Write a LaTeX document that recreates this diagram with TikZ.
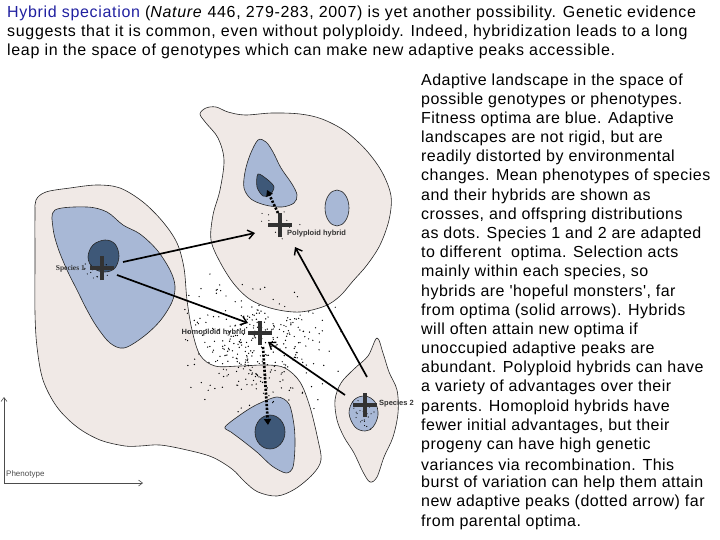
\documentclass[tikz,border=0pt]{standalone}
\usepackage{fontspec}
\setmainfont{Liberation Sans}
\newfontfamily\serifsmall{Liberation Serif}
\newfontfamily\hdrfont[LetterSpace=4.2]{Liberation Sans}
\newfontfamily\bodyfont[LetterSpace=3.0]{Liberation Sans}
\usetikzlibrary{arrows.meta}
\definecolor{pale}{RGB}{240,233,230}
\definecolor{midblue}{RGB}{168,184,214}
\definecolor{darkblue}{RGB}{62,88,120}
\definecolor{linkblue}{RGB}{32,32,160}
\definecolor{crossgray}{RGB}{50,50,50}
\tikzset{
  land/.style={fill=pale,draw=black!85,line width=0.6pt},
  peak/.style={fill=midblue,draw=black!85,line width=0.6pt},
  top/.style={fill=darkblue,draw=black!85,line width=0.6pt},
  solidarr/.style={line width=1.7pt,-{Straight Barb[length=6pt,width=9pt,line width=1.4pt]}},
  dotarr/.style={line width=2.6pt,dash pattern=on 2.2pt off 1.6pt,-{Triangle[length=6pt,width=7pt]}},
  crossline/.style={line width=4.5pt,crossgray},
  axis/.style={line width=0.6pt,black!70,-{Straight Barb[length=4pt,width=6pt]}},
  hdr/.style={anchor=west,inner sep=0pt,font=\hdrfont\fontsize{16}{19}\selectfont},
  body/.style={anchor=west,inner sep=0pt,font=\bodyfont\fontsize{16}{19}\selectfont},
  lbl/.style={inner sep=0pt,font=\fontsize{7.5}{9}\selectfont\bfseries,text=black!80},
  dot/.style={fill=black}
}
\begin{document}
\begin{tikzpicture}[x=1pt,y=-1pt]
\useasboundingbox (0,0) rectangle (720,540);
% header
\node[hdr] (h1) at (7,13) {\textcolor{linkblue}{Hybrid speciation} (\textit{Nature} 446, 279-283, 2007) is yet another possibility. Genetic evidence};
\node[hdr] (h2) at (7,32) {suggests that it is common, even without polyploidy. Indeed, hybridization leads to a long};
\node[hdr] (h3) at (7,51) {leap in the space of genotypes which can make new adaptive peaks accessible.};
% body text
\foreach \t [count=\i from 0] in {
Adaptive landscape in the space of,
possible genotypes or phenotypes.,
Fitness optima are blue. Adaptive,
{landscapes are not rigid, but are},
readily distorted by environmental,
changes. Mean phenotypes of species,
and their hybrids are shown as,
{crosses, and offspring distributions},
as dots. Species 1 and 2 are adapted,
to different\ \ optima. Selection acts,
{mainly within each species, so},
{hybrids are 'hopeful monsters', far},
from optima (solid arrows). Hybrids,
will often attain new optima if,
unoccupied adaptive peaks are,
abundant. Polyploid hybrids can have,
a variety of advantages over their,
parents. Homoploid hybrids have,
{fewer initial advantages, but their},
progeny can have high genetic,
variances via recombination. This,
burst of variation can help them attain,
new adaptive peaks (dotted arrow) far,
from parental optima.}
  \node[body] (b\i) at (421,{81+19.17*\i}) {\t};
% landscapes
\draw[land] plot[smooth cycle,tension=0.55] coordinates {
(36,200) (46,192) (70,188) (97,185) (120,188) (143,202) (163,222) (177,243) (184,268) (187,300) (192,330) (200,355) (215,366) (240,366) (267,365) (285,368) (300,382) (310,407) (318,440) (321,460) (313,474) (295,489) (277,496) (258,492) (245,482) (232,469) (212,457) (187,450) (160,445) (140,446) (125,446) (100,440) (77,427) (57,407) (43,380) (37,347) (35,313) (35,260) (35,215)};
\draw[land] plot[smooth cycle,tension=0.55] coordinates {
(200,114) (206,108) (216,107) (228,112) (245,115) (272,113) (300,114) (322,119) (345,131) (366,150) (382,172) (391,196) (389,220) (380,245) (367,265) (353,281) (340,296) (325,306) (300,312) (274,309) (251,300) (234,284) (220,262) (211,240) (213,215) (220,190) (224,160) (218,138) (206,123)};
\draw[land] plot[smooth cycle,tension=0.55] coordinates {
(377,338) (368,356) (354,369) (341,383) (335,400) (337,420) (344,437) (354,453) (363,472) (370,482) (377,477) (384,457) (393,437) (398,413) (397,390) (389,372) (383,353)};
% peaks
\draw[peak] plot[smooth cycle,tension=0.55] coordinates {
(55,210) (87,207) (107,212) (123,225) (140,234) (157,250) (170,270) (175,286) (172,302) (160,321) (143,337) (124,348) (110,343) (97,327) (87,310) (77,290) (67,270) (58,248) (53,228)};
\draw[peak] plot[smooth cycle,tension=0.55] coordinates {
(258,140) (250,155) (245,172) (244,188) (251,199) (265,205) (282,207) (294,203) (297,195) (292,184) (281,168) (273,152) (266,142)};
\draw[peak] (337,208) ellipse [x radius=12, y radius=18];
\draw[peak] plot[smooth cycle,tension=0.5] coordinates {
(225,427) (240,415) (256,405) (277,397) (289,404) (294,425) (295,445) (293,467) (286,473) (272,466) (258,453) (243,441) (231,432)};
\draw[peak] plot[smooth cycle,tension=0.6] coordinates {
(349,413) (354,400) (365,396) (375,402) (378,415) (373,427) (365,431) (355,427)};
% top peaks
\draw[top] plot[smooth cycle,tension=0.6] coordinates {
(105,240) (115,244) (119,256) (115,268) (105,272) (93,268) (88,257) (93,245)};
\draw[top] plot[smooth cycle,tension=0.5] coordinates {
(258,174) (257,187) (263,196) (270,195) (274,187) (268,180)};
\draw[top] (270,432) ellipse [x radius=15, y radius=17];
% dots
\pgfmathsetseed{7}
\foreach \i in {1,...,340}
  \fill[dot] ({258+35*(rand+rand+rand)},{345+27*(rand+rand+rand)}) circle (0.7pt);
\foreach \i in {1,...,22}
  \fill[dot] ({98+9*(rand+rand)},{272+6*(rand+rand)}) circle (0.6pt);
\foreach \i in {1,...,16}
  \fill[dot] ({280+12*(rand+rand)},{225+8*(rand+rand)}) circle (0.6pt);
\foreach \i in {1,...,22}
  \fill[dot] ({365+8*(rand+rand)},{414+8*(rand+rand)}) circle (0.6pt);
% crosses (named coordinates)
\coordinate (s1) at (102,268);
\coordinate (ph) at (280,225);
\coordinate (hh) at (260,333);
\coordinate (s2) at (365,405);
\foreach \c in {s1,ph,hh,s2}{
  \draw[crossline] ([xshift=-12pt]\c) -- ([xshift=12pt]\c);
  \draw[crossline] ([yshift=-12pt]\c) -- ([yshift=12pt]\c);
}
% labels
\node[lbl,anchor=east,font=\fontsize{7.5}{9}\selectfont\serifsmall\bfseries] (l1) at (85,269) {Species 1};
\node[lbl,anchor=west] (l2) at (287,234) {Polyploid hybrid};
\node[lbl,anchor=east] (l3) at (246,333) {Homoploid hybrid};
\node[lbl,anchor=west] (l4) at (379,404) {Species 2};
% arrow endpoints
\coordinate (a1s) at (123,262); \coordinate (a1e) at (255,233);
\coordinate (a2s) at (117,275); \coordinate (a2e) at (248,323);
\coordinate (a3s) at (345,395); \coordinate (a3e) at (268,342);
\coordinate (a4s) at (367,377); \coordinate (a4e) at (295,247);
\draw[solidarr] (a1s) -- (a1e);
\draw[solidarr] (a2s) -- (a2e);
\draw[solidarr] (a3s) -- (a3e);
\draw[solidarr] (a4s) -- (a4e);
\coordinate (d1s) at (278,213); \coordinate (d1e) at (267,190);
\coordinate (d2s) at (263,347); \coordinate (d2e) at (268,425);
\draw[dotarr] (d1s) -- (d1e);
\draw[dotarr] (d2s) -- (d2e);
% axes
\coordinate (o) at (4,483);
\coordinate (yt) at (4,397);
\coordinate (xt) at (143,483);
\draw[axis] (o) -- (yt);
\draw[axis] (o) -- (xt);
\node[anchor=west,inner sep=0pt,font=\fontsize{8}{9}\selectfont,text=black!70] (pl) at (6,474) {Phenotype};
\end{tikzpicture}
\end{document}
